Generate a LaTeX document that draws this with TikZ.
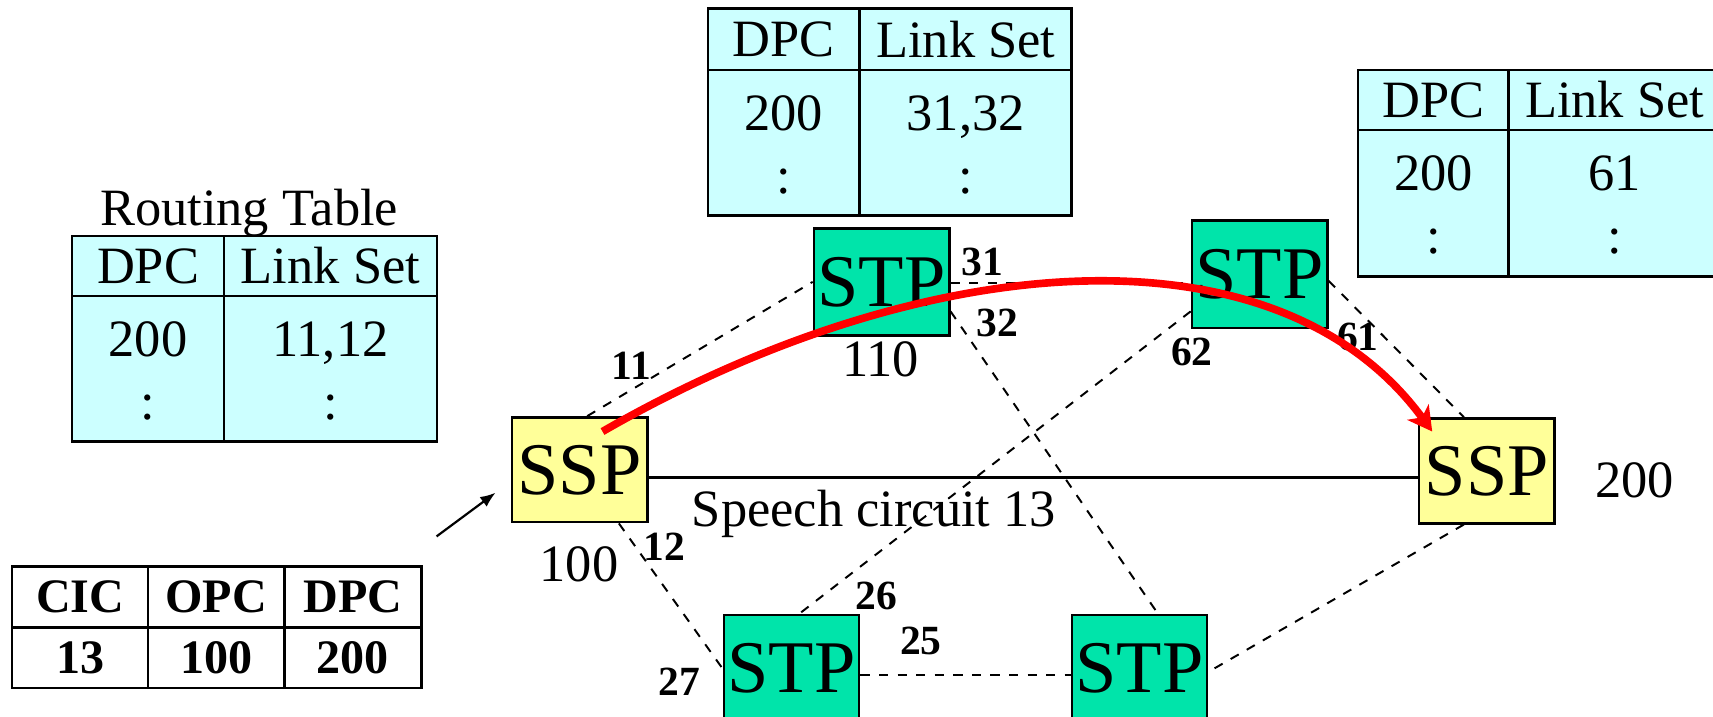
\documentclass[tikz,border=0pt]{standalone}
\usepackage{fontspec}
\setmainfont{Liberation Serif}
\usetikzlibrary{arrows.meta,calc}
\definecolor{tblcyan}{RGB}{204,255,255}
\definecolor{sspyellow}{RGB}{255,255,153}
\definecolor{stpgreen}{RGB}{0,228,170}
\definecolor{arrowred}{RGB}{255,0,0}
\begin{document}
\begin{tikzpicture}[x=1pt,y=-1pt,
  txt/.style={font=\fontsize{48}{56}\selectfont, inner sep=0pt, anchor=base},
  lbl/.style={font=\bfseries\fontsize{38}{40}\selectfont, inner sep=0pt, anchor=base},
  cell/.style={draw, line width=2.5pt, fill=tblcyan, inner sep=0pt, font=\fontsize{48}{56}\selectfont},
  bcell/.style={draw, line width=2.5pt, fill=white, inner sep=0pt, minimum width=125pt, minimum height=55.5pt, font=\bfseries\fontsize{44}{48}\selectfont},
  netbox/.style={draw, line width=2.2pt, inner sep=0pt, minimum width=124pt, font=\fontsize{68}{72}\selectfont},
  ssp/.style={netbox, fill=sspyellow, minimum height=96pt},
  stp/.style={netbox, fill=stpgreen, minimum height=98pt},
  link/.style={line width=1.8pt, dash pattern=on 8.5pt off 8.5pt},
  circuit/.style={line width=2.2pt},
  route/.style={draw=arrowred, line width=7pt, -{Stealth[length=22pt,width=24pt,inset=6pt,fill=arrowred]}},
  pointer/.style={line width=2pt, -{Latex[length=14pt,width=11pt]}}
]
\clip (0,0) rectangle (1568,656);
\useasboundingbox (0,0) rectangle (1568,656);

% Routing table (SSP 100)
\node[txt] (rtitle) at (228,206.5) {Routing Table};
\node[cell, minimum width=139pt, minimum height=55pt] (t1h1) at (135.5,243.5) {DPC};
\node[cell, minimum width=195pt, minimum height=55pt] (t1h2) at (302.5,243.5) {Link Set};
\node[cell, minimum width=139pt, minimum height=133pt] (t1b1) at (135.5,337.5) {};
\node[cell, minimum width=195pt, minimum height=133pt] (t1b2) at (302.5,337.5) {};
\node[txt] (t1v1) at (135.5,326) {200};
\node[txt] (t1v2) at (302.5,326) {11,12};
\node[txt] (t1d1) at (135.5,384) {:};
\node[txt] (t1d2) at (302.5,384) {:};

% Table of STP 110
\node[cell, minimum width=139pt, minimum height=56pt] (t2h1) at (717.5,36) {DPC};
\node[cell, minimum width=194pt, minimum height=56pt] (t2h2) at (884,36) {Link Set};
\node[cell, minimum width=139pt, minimum height=133pt] (t2b1) at (717.5,130.5) {};
\node[cell, minimum width=194pt, minimum height=133pt] (t2b2) at (884,130.5) {};
\node[txt] (t2v1) at (717.5,119) {200};
\node[txt] (t2v2) at (884,119) {31,32};
\node[txt] (t2d1) at (717.5,177) {:};
\node[txt] (t2d2) at (884,177) {:};

% Table of the right STP
\node[cell, minimum width=138pt, minimum height=55pt] (t3h1) at (1312,91.5) {DPC};
\node[cell, minimum width=194pt, minimum height=55pt] (t3h2) at (1478,91.5) {Link Set};
\node[cell, minimum width=138pt, minimum height=134pt] (t3b1) at (1312,186) {};
\node[cell, minimum width=194pt, minimum height=134pt] (t3b2) at (1478,186) {};
\node[txt] (t3v1) at (1312,174) {200};
\node[txt] (t3v2) at (1478,174) {61};
\node[txt] (t3d1) at (1312,232) {:};
\node[txt] (t3d2) at (1478,232) {:};

% Message table
\node[bcell] (m11) at (73.5,546.5) {CIC};
\node[bcell] (m12) at (198,546.5) {OPC};
\node[bcell] (m13) at (323,546.5) {DPC};
\node[bcell] (m21) at (73.5,602) {13};
\node[bcell] (m22) at (198,602) {100};
\node[bcell] (m23) at (323,602) {200};

% Signalling points
\node[ssp] (sspL) at (530.5,430) {SSP};
\node[ssp] (sspR) at (1361,431) {SSP};
\node[stp] (stpTL) at (807,258) {STP};
\node[stp] (stpTR) at (1153,251) {STP};
\node[stp] (stpBL) at (724.5,612) {STP};
\node[stp] (stpBR) at (1043,612) {STP};

% Point codes and texts
\node[txt] (pc100) at (530,532) {100};
\node[txt] (pc110) at (806,345) {110};
\node[txt] (pc200) at (1496,455) {200};
\node[txt] (speech) at (800,482) {Speech circuit 13};

% Links
\draw[link] ([xshift=7pt]sspL.north) -- (stpTL.west);
\draw[link] ([xshift=36pt]sspL.south) -- (stpBL.west);
\draw[link] ([yshift=-1pt]stpTL.east) -- ([yshift=-1pt]stpTL.east -| stpTR.west);
\draw[link] ([yshift=-27pt]stpTL.east) -- ([xshift=17pt]stpBR.north);
\draw[link] ([yshift=-34pt]stpTR.west) -- ([xshift=7pt]stpBL.north);
\draw[link] ([yshift=-6pt]stpTR.east) -- ([xshift=-21pt]sspR.north);
\draw[link] ([xshift=-21pt]sspR.south) -- ([yshift=-3pt]stpBR.east);
\draw[link] ([yshift=-6pt]stpBL.east) -- ([yshift=-6pt]stpBL.east -| stpBR.west);
\draw[circuit] ([yshift=-7pt]sspL.east) -- ([yshift=-7pt]sspL.east -| sspR.west);

% Link labels
\node[lbl] (l11) at (578,347) {11};
\node[lbl] (l12) at (608,513) {12};
\node[lbl] (l31) at (899,252) {31};
\node[lbl] (l32) at (913,308) {32};
\node[lbl] (l62) at (1091,335) {62};
\node[lbl] (l61) at (1243,321) {61};
\node[lbl] (l26) at (802,558) {26};
\node[lbl] (l25) at (843,599) {25};
\node[lbl] (l27) at (622,637) {27};

% Pointer arrow from message to SSP
\coordinate (pa) at (399.6,491);
\coordinate (pb) at (453.6,451);
\draw[pointer] (pa) -- (pb);

% Signalling route
\coordinate (rs) at ($(sspL.center)+(21,-35)$);
\coordinate (re) at ($(sspR.center)+(-50,-36)$);
\draw[route] (rs) .. controls (845,226) and (1169,201) .. (re);
\end{tikzpicture}
\end{document}
